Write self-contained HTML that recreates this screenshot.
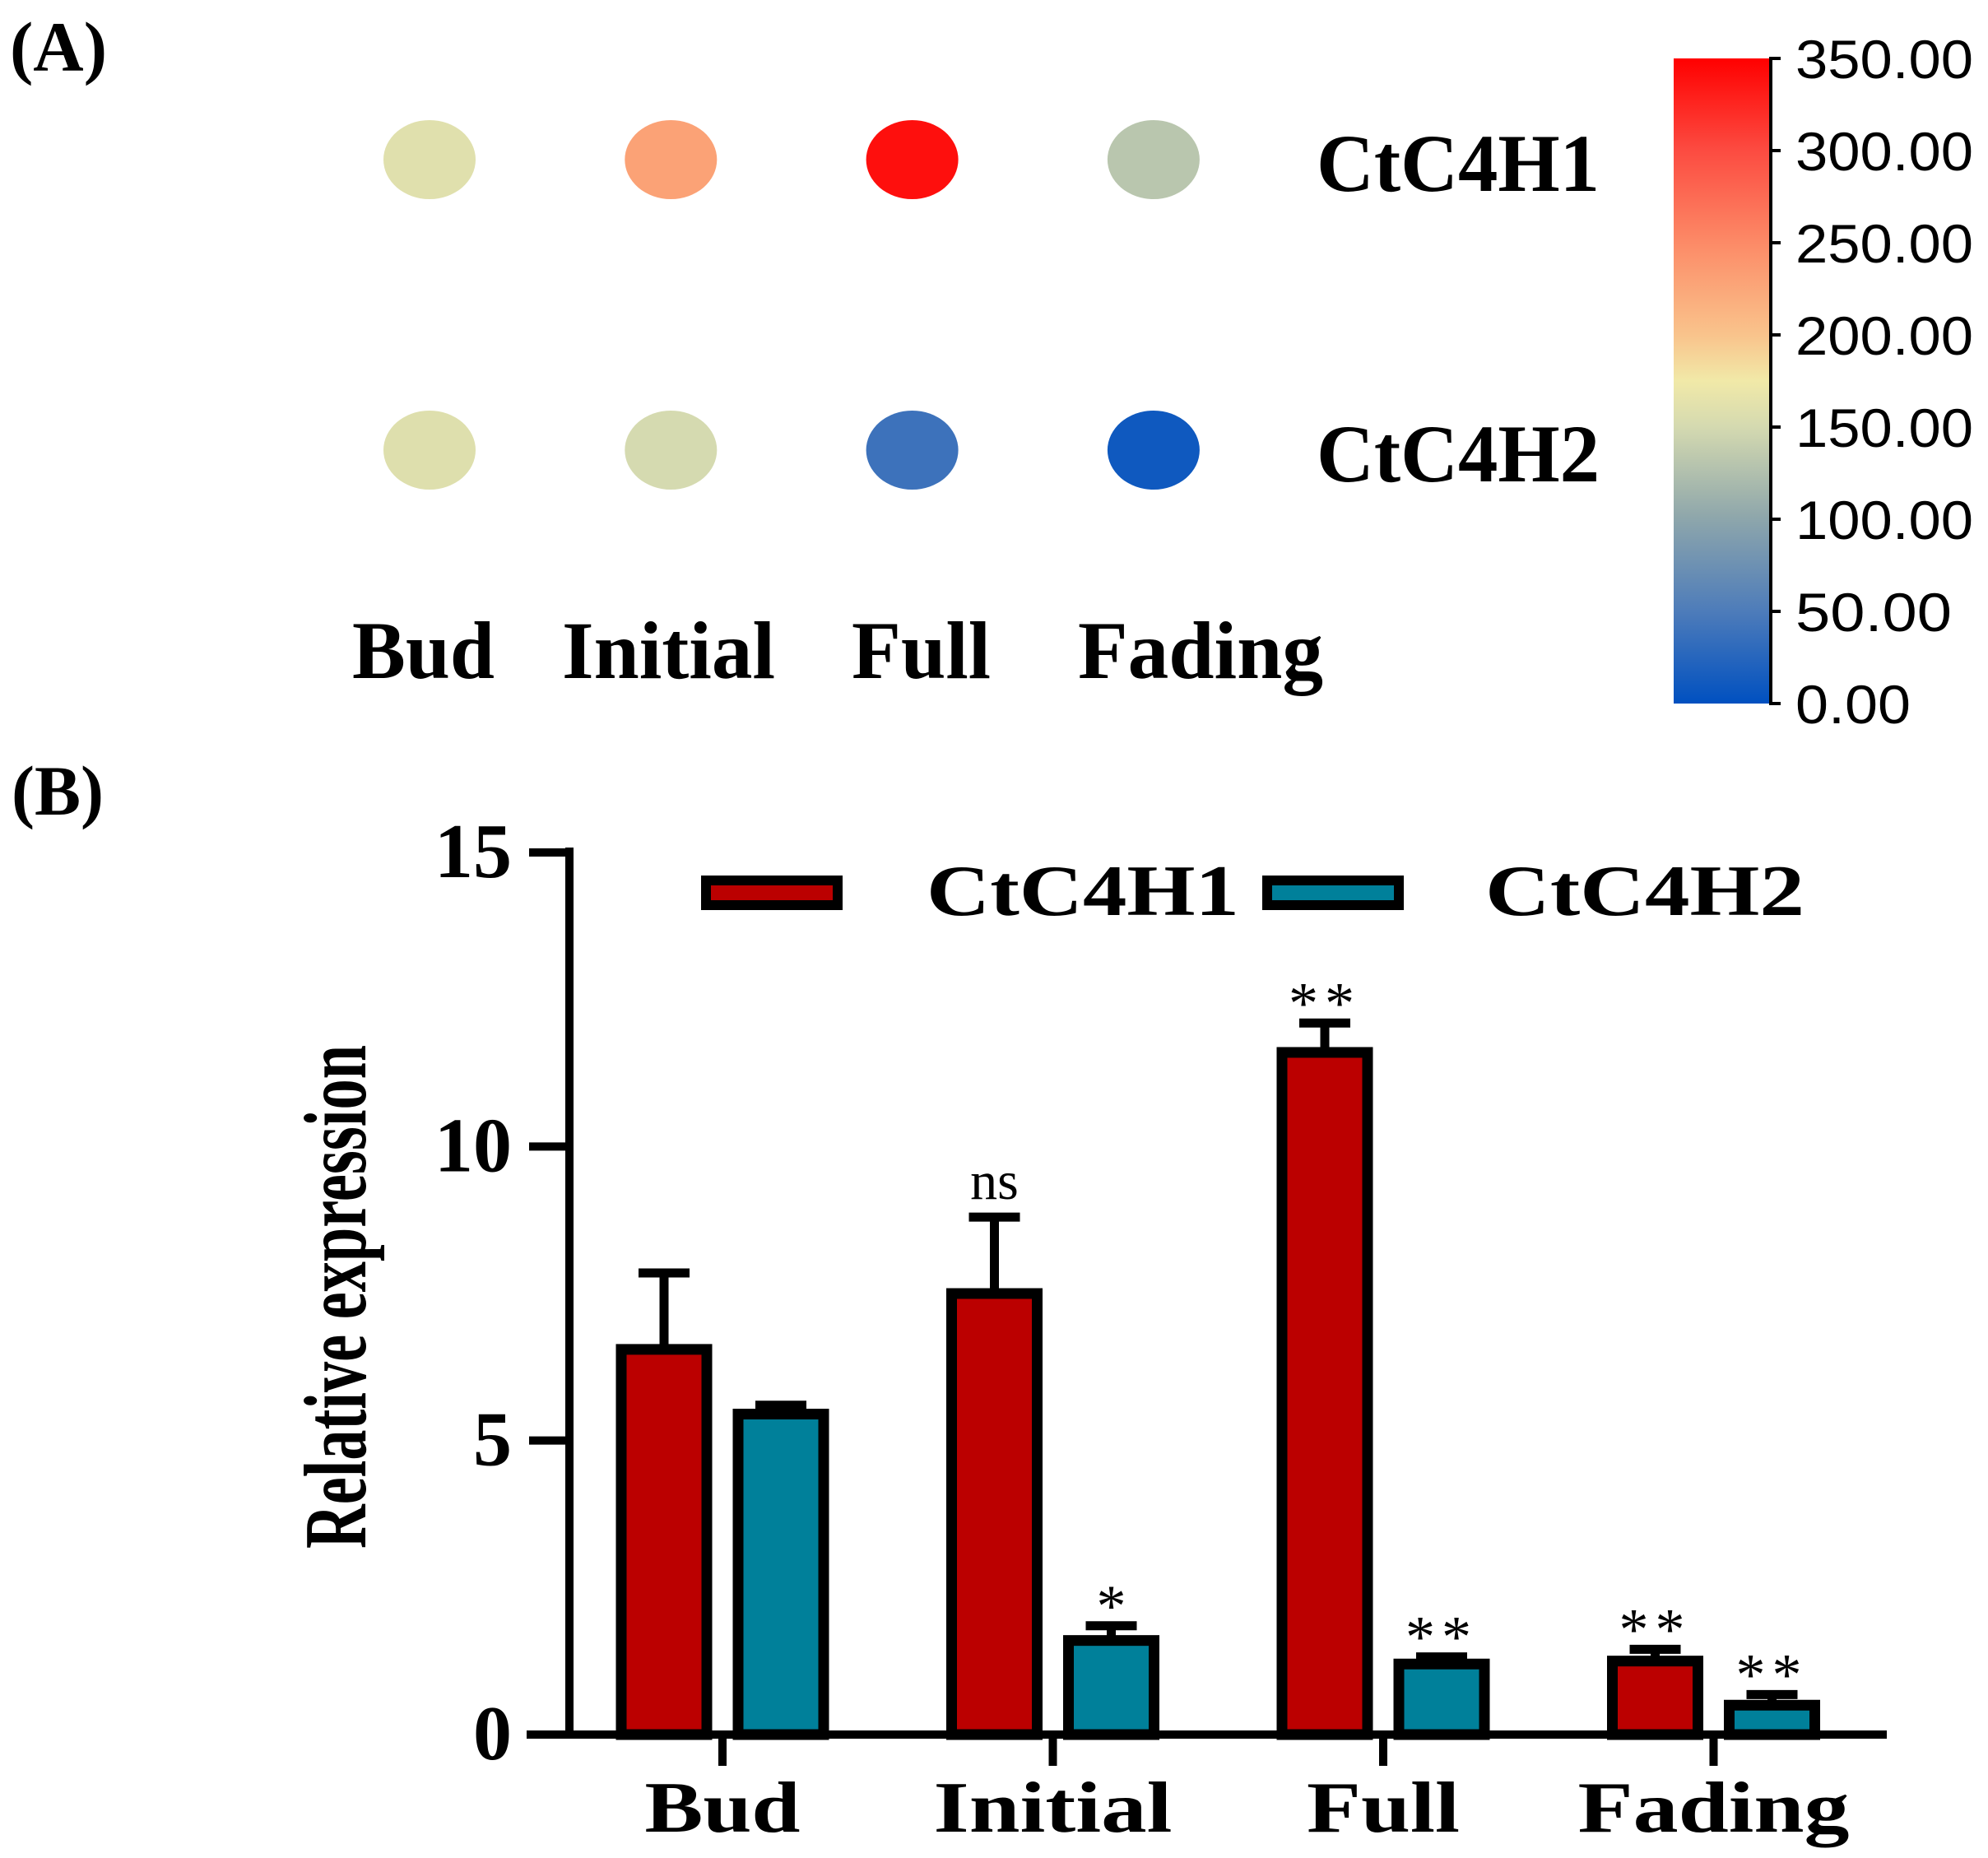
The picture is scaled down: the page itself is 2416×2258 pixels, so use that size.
<!DOCTYPE html>
<html><head><meta charset="utf-8"><style>
html,body{margin:0;padding:0;background:#fff;}
svg{display:block;}
.serif{font-family:"Liberation Serif",serif;font-weight:bold;}
.sans{font-family:"Liberation Sans",sans-serif;}
</style></head><body>
<svg id="fig" width="2416" height="2258" viewBox="0 0 2416 2258" xmlns="http://www.w3.org/2000/svg">
<defs>
<linearGradient id="cbar" x1="0" y1="1" x2="0" y2="0">
<stop offset="0" stop-color="#0050c0"/>
<stop offset="0.14" stop-color="#4c7bba"/>
<stop offset="0.29" stop-color="#8fa7ab"/>
<stop offset="0.43" stop-color="#d5dab0"/>
<stop offset="0.5" stop-color="#f1e9a8"/>
<stop offset="0.57" stop-color="#f9c48c"/>
<stop offset="0.71" stop-color="#fc8c68"/>
<stop offset="0.86" stop-color="#fc4a40"/>
<stop offset="1" stop-color="#ff0000"/>
</linearGradient>
</defs>
<text x="12" y="86" class="serif" font-size="86" textLength="118" lengthAdjust="spacingAndGlyphs">(A)</text>
<text x="14" y="990" class="serif" font-size="86" textLength="112" lengthAdjust="spacingAndGlyphs">(B)</text>
<g id="dots"></g>
<g id="cb">
<rect x="2034" y="71" width="118" height="784" fill="url(#cbar)"/>
<line x1="2152" y1="71" x2="2152" y2="855" stroke="#000" stroke-width="4"/>
</g>
<g id="bars"></g>
</svg>
<script>
// Panel A data
const stages = ["Bud","Initial","Full","Fading"];
const genes = ["CtC4H1","CtC4H2"];
const heatC4H1 = [160, 230, 340, 130];
const heatC4H2 = [158, 150, 40, 10];
const cbTicks = [0,50,100,150,200,250,300,350];
// Panel B data
const seriesC4H1 = [6.55, 7.5, 11.6, 1.25];
const errC4H1 = [1.3, 1.3, 0.5, 0.2];
const seriesC4H2 = [5.45, 1.6, 1.2, 0.5];
const errC4H2 = [0.15, 0.25, 0.12, 0.18];
const sigC4H1 = ["", "ns", "**", "**"];
const sigC4H2 = ["", "*", "**", "**"];
const yTicks = [0,5,10,15];

const NS="http://www.w3.org/2000/svg";
function mk(tag, attrs, parent, txt){const e=document.createElementNS(NS,tag);for(const k in attrs)e.setAttribute(k,attrs[k]);if(txt!==undefined)e.textContent=txt;parent.appendChild(e);return e;}

const stops=[[0,[0,80,192]],[50,[76,123,186]],[100,[143,167,171]],[150,[213,218,176]],[175,[241,233,168]],[200,[249,196,140]],[250,[252,140,104]],[300,[252,74,64]],[350,[255,0,0]]];
function col(v){for(let i=1;i<stops.length;i++){if(v<=stops[i][0]){const a=stops[i-1],b=stops[i],t=(v-a[0])/(b[0]-a[0]);return "rgb("+a[1].map((c,j)=>Math.round(c+(b[1][j]-c)*t)).join(",")+")";}}return "rgb(255,0,0)";}

const dots=document.getElementById('dots');
const dx=i=>525+i*293.3;
const rowY=[194,547];
[heatC4H1,heatC4H2].forEach((row,r)=>{
  row.forEach((v,i)=>{
    const e=mk('ellipse',{cx:dx(i)-3,cy:rowY[r],rx:56,ry:48,fill:col(v)},dots);
    
    
  });
  const t=mk('text',{x:1600,y:rowY[r]+38,'font-size':100,textLength:344,lengthAdjust:'spacingAndGlyphs',class:'serif'},dots,genes[r]);
  
  
});
stages.forEach((s,i)=>{
  const lx=[428,683,1035,1310][i], w=[173,259,169,298][i];
  const t=mk('text',{x:lx,y:824,'font-size':100,textLength:w,lengthAdjust:'spacingAndGlyphs',class:'serif'},dots,s);
  
  
});
const cb=document.getElementById('cb');
const cbY=v=>855-v/350*784;
cbTicks.forEach(v=>{
  mk('line',{x1:2150,x2:2164,y1:cbY(v),y2:cbY(v),stroke:'#000','stroke-width':4},cb);
  const t=mk('text',{x:2182,y:cbY(v)+24,'font-size':66,class:'sans',textLength:v>=100?216:(v>0?190:140),lengthAdjust:'spacingAndGlyphs'},cb,v.toFixed(2));
  
  
});

// Panel B
const g=document.getElementById('bars');
const y0=2108, pxu=(2108-1036)/15;
const Y=v=>y0-v*pxu;
const X=i=>878+i*401.5;
const bw=104, off=71;
mk('line',{x1:692,x2:692,y1:1030,y2:2112,stroke:'#000','stroke-width':10},g);
mk('line',{x1:640,x2:2293,y1:y0,y2:y0,stroke:'#000','stroke-width':10},g);
yTicks.forEach(v=>{
  mk('line',{x1:643,x2:692,y1:Y(v),y2:Y(v),stroke:'#000','stroke-width':10},g);
  const t=mk('text',{x:622,y:Y(v)+30,'font-size':94,'text-anchor':'end',class:'serif'},g,String(v));
  
  
});
const yt=mk('text',{x:0,y:0,'font-size':108,'text-anchor':'middle',class:'serif',textLength:612,lengthAdjust:'spacingAndGlyphs',transform:'translate(444,1576) rotate(-90)'},g,'Relative expression');


const xw=[189,290,186,330];
stages.forEach((s,i)=>{
  mk('line',{x1:X(i),x2:X(i),y1:y0,y2:2146,stroke:'#000','stroke-width':10},g);
  const t=mk('text',{x:X(i),y:2226,'font-size':88,'text-anchor':'middle',class:'serif',textLength:xw[i],lengthAdjust:'spacingAndGlyphs'},g,s);
  
  
});
function drawSeries(vals,errs,sigs,dxo,fill,name){
  vals.forEach((v,i)=>{
    const cx=X(i)+dxo, top=Y(v), et=Y(v+errs[i]);
    mk('line',{x1:cx,x2:cx,y1:et,y2:top,stroke:'#000','stroke-width':11},g);
    mk('line',{x1:cx-31,x2:cx+31,y1:et,y2:et,stroke:'#000','stroke-width':11},g);
    const r=mk('rect',{x:cx-bw/2,y:top,width:bw,height:y0-top,fill:fill,stroke:'#000','stroke-width':13},g);
    
    
    if(sigs[i]){
      const isNs=sigs[i]==='ns';
      const t=mk('text',{x:cx,y:et-(isNs?22:0),'font-size':isNs?66:72,'text-anchor':'middle','letter-spacing':sigs[i]==='**'?8:0,style:'font-family:"Liberation Serif",serif;font-weight:normal'},g,sigs[i]);
      
      
    }
  });
}
drawSeries(seriesC4H1,errC4H1,sigC4H1,-off,'#bb0000','ctc4h1');
drawSeries(seriesC4H2,errC4H2,sigC4H2,off,'#00809a','ctc4h2');
const l1=mk('rect',{x:858,y:1070,width:160,height:30,fill:'#bb0000',stroke:'#000','stroke-width':12},g);


const lt1=mk('text',{x:1126,y:1112,'font-size':88,class:'serif',textLength:380,lengthAdjust:'spacingAndGlyphs'},g,'CtC4H1');


const l2=mk('rect',{x:1540,y:1070,width:160,height:30,fill:'#00809a',stroke:'#000','stroke-width':12},g);


const lt2=mk('text',{x:1805,y:1112,'font-size':88,class:'serif',textLength:388,lengthAdjust:'spacingAndGlyphs'},g,'CtC4H2');


</script>
</body></html>
